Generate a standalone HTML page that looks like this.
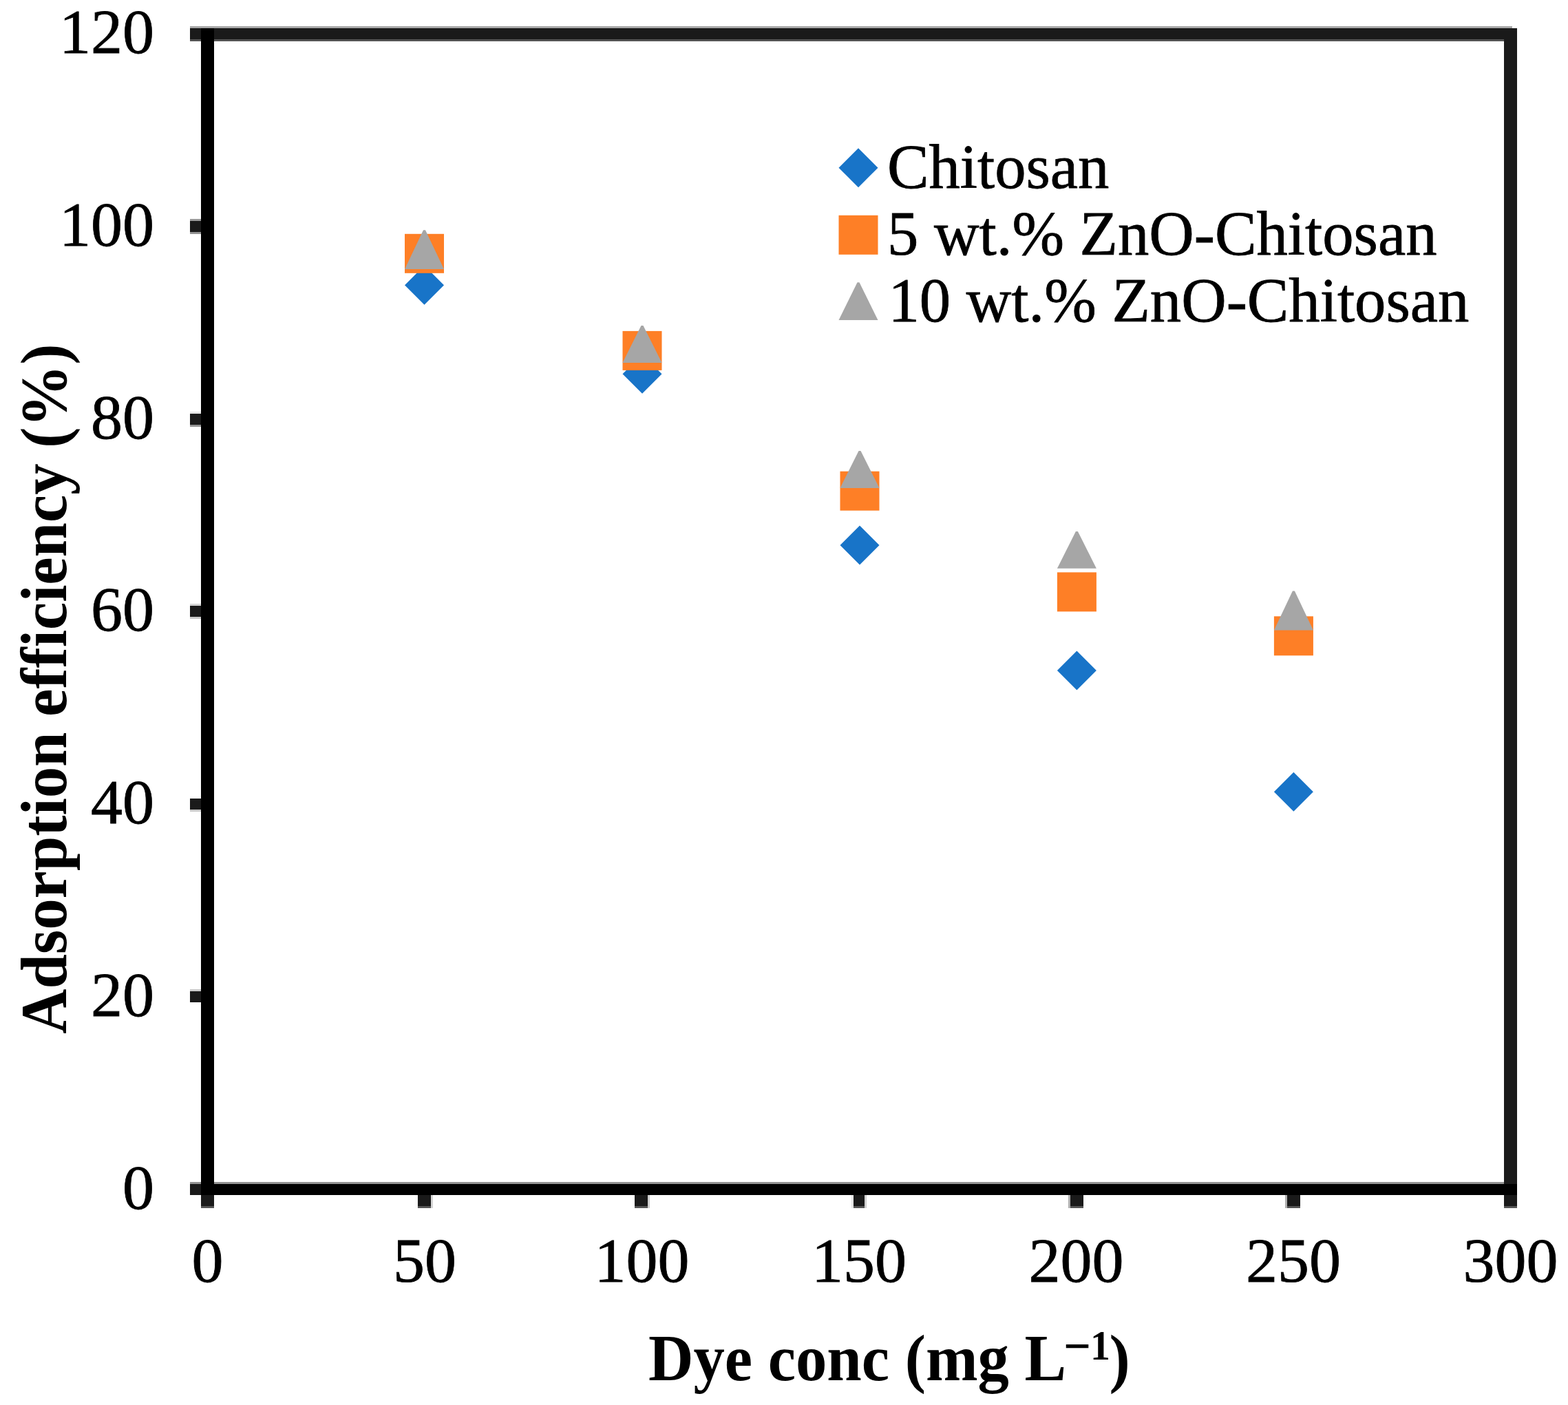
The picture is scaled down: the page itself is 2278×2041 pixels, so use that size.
<!DOCTYPE html>
<html><head><meta charset="utf-8"><style>
html,body{margin:0;padding:0;background:#fff;overflow:hidden;}
svg{display:block;}
.t{font-family:"Liberation Serif","Times New Roman",serif;font-size:90.7px;fill:#000;stroke:#000;stroke-width:0.8px;}
.n{font-size:92px;}
.b{font-family:"Liberation Serif","Times New Roman",serif;font-size:90.7px;font-weight:bold;fill:#000;}
</style></head><body>
<svg width="2278" height="2041" viewBox="0 0 2278 2041">
<rect width="2278" height="2041" fill="#fff"/>
<rect x="276" y="38" width="1921" height="3" fill="#a8a8a8"/>
<rect x="276" y="41" width="1928" height="16" fill="#1a1a1a"/>
<rect x="276" y="57" width="1909" height="3" fill="#535353"/>
<rect x="2185" y="41" width="19" height="1711" fill="#1a1a1a"/>
<rect x="2185" y="1752" width="19" height="3" fill="#555555"/>
<rect x="276" y="1437" width="16" height="3" fill="#cbcbcb"/>
<rect x="276" y="1440" width="16" height="16" fill="#1a1a1a"/>
<rect x="276" y="1160" width="16" height="16" fill="#1a1a1a"/>
<rect x="276" y="1176" width="16" height="3" fill="#c8c8c8"/>
<rect x="276" y="877" width="16" height="3" fill="#d5d5d5"/>
<rect x="276" y="880" width="16" height="16" fill="#1a1a1a"/>
<rect x="276" y="896" width="16" height="3" fill="#c8c8c8"/>
<rect x="276" y="598" width="16" height="3" fill="#e6e6e6"/>
<rect x="276" y="601" width="16" height="16" fill="#1a1a1a"/>
<rect x="276" y="617" width="16" height="3" fill="#939393"/>
<rect x="276" y="318" width="16" height="3" fill="#9a9a9a"/>
<rect x="276" y="321" width="16" height="16" fill="#1a1a1a"/>
<rect x="276" y="337" width="16" height="3" fill="#939393"/>
<rect x="604" y="1736" width="3" height="19" fill="#f7f7f7"/>
<rect x="607" y="1736" width="19" height="16" fill="#1a1a1a"/>
<rect x="607" y="1752" width="19" height="3" fill="#555555"/>
<rect x="626" y="1736" width="3" height="19" fill="#d5d5d5"/>
<rect x="922" y="1736" width="19" height="16" fill="#1a1a1a"/>
<rect x="922" y="1752" width="19" height="3" fill="#555555"/>
<rect x="941" y="1736" width="3" height="19" fill="#cfcfcf"/>
<rect x="1237" y="1736" width="3" height="19" fill="#e5e5e5"/>
<rect x="1240" y="1736" width="16" height="16" fill="#1a1a1a"/>
<rect x="1240" y="1752" width="16" height="3" fill="#555555"/>
<rect x="1256" y="1736" width="3" height="19" fill="#cfcfcf"/>
<rect x="1552" y="1736" width="3" height="19" fill="#b0b0b0"/>
<rect x="1555" y="1736" width="19" height="16" fill="#1a1a1a"/>
<rect x="1555" y="1752" width="19" height="3" fill="#555555"/>
<rect x="1867" y="1736" width="3" height="19" fill="#b0b0b0"/>
<rect x="1870" y="1736" width="19" height="16" fill="#1a1a1a"/>
<rect x="1870" y="1752" width="19" height="3" fill="#555555"/>
<rect x="292" y="1736" width="19" height="16" fill="#1a1a1a"/>
<rect x="292" y="1752" width="19" height="3" fill="#555555"/>
<rect x="276" y="1717" width="1909" height="3" fill="#939393"/>
<rect x="276" y="1720" width="16" height="16" fill="#1a1a1a"/>
<rect x="292" y="1720" width="1912" height="16" fill="#000000"/>
<rect x="292" y="41" width="19" height="1695" fill="#000000"/>
<text x="224" y="1755.7" text-anchor="end" class="t n">0</text>
<text x="224" y="1475.9" text-anchor="end" class="t n">20</text>
<text x="224" y="1196.1" text-anchor="end" class="t n">40</text>
<text x="224" y="916.3" text-anchor="end" class="t n">60</text>
<text x="224" y="636.5" text-anchor="end" class="t n">80</text>
<text x="224" y="356.7" text-anchor="end" class="t n">100</text>
<text x="224" y="76.9" text-anchor="end" class="t n">120</text>
<text x="301.5" y="1862" text-anchor="middle" class="t n">0</text>
<text x="617.0" y="1862" text-anchor="middle" class="t n">50</text>
<text x="932.5" y="1862" text-anchor="middle" class="t n">100</text>
<text x="1248.0" y="1862" text-anchor="middle" class="t n">150</text>
<text x="1563.5" y="1862" text-anchor="middle" class="t n">200</text>
<text x="1879.0" y="1862" text-anchor="middle" class="t n">250</text>
<text x="2194.5" y="1862" text-anchor="middle" class="t n">300</text>
<path d="M616.5 385.7L645.0 414.2L616.5 442.7L588.0 414.2Z" fill="#1874c8"/>
<path d="M933 514.8L961.5 543.3L933 571.8L904.5 543.3Z" fill="#1874c8"/>
<path d="M1249 763.5L1277.5 792L1249 820.5L1220.5 792Z" fill="#1874c8"/>
<path d="M1564.4 945.5L1592.9 974L1564.4 1002.5L1535.9 974Z" fill="#1874c8"/>
<path d="M1879.4 1121.7L1907.9 1150.2L1879.4 1178.7L1850.9 1150.2Z" fill="#1874c8"/>
<rect x="588.0" y="339.8" width="57" height="57" fill="#fe7f26"/>
<rect x="904.5" y="480.9" width="57" height="57" fill="#fe7f26"/>
<rect x="1220.5" y="684.7" width="57" height="57" fill="#fe7f26"/>
<rect x="1535.9" y="831.4" width="57" height="57" fill="#fe7f26"/>
<rect x="1850.9" y="895.3" width="57" height="57" fill="#fe7f26"/>
<path d="M615.0 334.2L618.0 334.2L645.0 390.9L588.0 390.9Z" fill="#a6a6a6"/>
<path d="M931.5 473.1L934.5 473.1L961.5 526.9L904.5 526.9Z" fill="#a6a6a6"/>
<path d="M1247.5 655.1L1250.5 655.1L1277.5 708.9L1220.5 708.9Z" fill="#a6a6a6"/>
<path d="M1562.9 772.1L1565.9 772.1L1592.9 825.8L1535.9 825.8Z" fill="#a6a6a6"/>
<path d="M1877.9 858.4L1880.9 858.4L1907.9 915.4L1850.9 915.4Z" fill="#a6a6a6"/>
<path d="M1247 215.2L1275.5 243.7L1247 272.2L1218.5 243.7Z" fill="#1874c8"/>
<rect x="1218.5" y="312.8" width="57" height="57" fill="#fe7f26"/>
<path d="M1245.5 410.2L1248.5 410.2L1275.5 465.1L1218.5 465.1Z" fill="#a6a6a6"/>
<text x="1289" y="273" class="t">Chitosan</text>
<text x="1289" y="370" class="t">5 wt.% ZnO-Chitosan</text>
<text x="1290.5" y="466.5" class="t">10 wt.% ZnO-Chitosan</text>
<text transform="translate(0,2004.5) scale(1,1.04)" x="942" y="0" class="b">Dye conc (mg L<tspan x="1545" y="-23.3" style="font-size:70px">−</tspan><tspan x="1584" y="-28.5" style="font-size:58px">1</tspan><tspan x="1611.5" y="0">)</tspan></text>
<text transform="translate(96.2,1502) rotate(-90) scale(1,1.04)" x="0" y="0" class="b">Adsorption efficiency (%)</text>
</svg>
</body></html>
